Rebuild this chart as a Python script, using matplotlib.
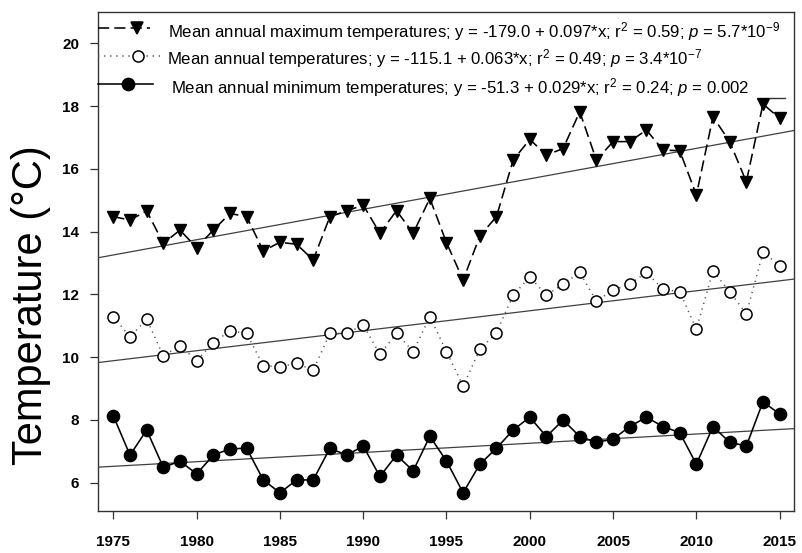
import numpy as np
import matplotlib
matplotlib.use("Agg")
import matplotlib.pyplot as plt
from matplotlib.lines import Line2D

# Annual temperature series (°C), 1975-2015
years = list(range(1975, 2016))

t_max = [14.48, 14.37, 14.66, 13.63, 14.05, 13.49, 14.05, 14.58, 14.48, 13.39,
         13.66, 13.60, 13.10, 14.48, 14.66, 14.85, 13.95, 14.67, 13.95, 15.06,
         13.65, 12.46, 13.86, 14.48, 16.28, 16.94, 16.44, 16.65, 17.82, 16.28,
         16.87, 16.87, 17.24, 16.60, 16.58, 15.17, 17.66, 16.87, 15.59, 18.07,
         17.61]

t_mean = [11.29, 10.65, 11.21, 10.04, 10.37, 9.89, 10.46, 10.84, 10.76, 9.73,
          9.70, 9.80, 9.59, 10.76, 10.76, 11.03, 10.09, 10.76, 10.18, 11.29,
          10.18, 9.08, 10.25, 10.78, 11.98, 12.55, 11.98, 12.33, 12.70, 11.79,
          12.14, 12.33, 12.70, 12.17, 12.09, 10.89, 12.75, 12.09, 11.38, 13.34,
          12.92]

t_min = [8.13, 6.88, 7.68, 6.49, 6.69, 6.28, 6.88, 7.08, 7.10, 6.09,
         5.68, 6.09, 6.09, 7.10, 6.88, 7.17, 6.20, 6.88, 6.38, 7.48,
         6.69, 5.68, 6.59, 7.10, 7.68, 8.09, 7.47, 8.00, 7.47, 7.29,
         7.39, 7.79, 8.09, 7.79, 7.60, 6.59, 7.79, 7.29, 7.17, 8.58,
         8.19]

legend_labels = [
    r"Mean annual maximum temperatures; y = -179.0 + 0.097*x; r$^2$ = 0.59; $\it{p}$ = 5.7*10$^{-9}$",
    r"Mean annual temperatures; y = -115.1 + 0.063*x; r$^2$ = 0.49; $\it{p}$ = 3.4*10$^{-7}$",
    r"Mean annual minimum temperatures; y = -51.3 + 0.029*x; r$^2$ = 0.24; $\it{p}$ = 0.002",
]

x_ticks = [1975, 1980, 1985, 1990, 1995, 2000, 2005, 2010, 2015]
y_ticks = [6, 8, 10, 12, 14, 16, 18, 20]

plt.rcParams["font.family"] = ["Liberation Sans", "DejaVu Sans"]
plt.rcParams["mathtext.fontset"] = "custom"
plt.rcParams["mathtext.rm"] = "Liberation Sans"
plt.rcParams["mathtext.it"] = "Liberation Sans:italic"
plt.rcParams["mathtext.bf"] = "Liberation Sans:bold"

W, H = 802, 553
fig = plt.figure(figsize=(W / 100, H / 100), dpi=100)
fig.patch.set_facecolor("white")

# plot region in pixels
L, R, T, B = 97.7, 794.3, 12.3, 511.0
ax = fig.add_axes([L / W, 1 - B / H, (R - L) / W, (B - T) / H])
ax.set_xlim(1974.06, 2015.88)
ax.set_ylim(5.10, 20.99)

frame_col = "#333333"
trend_col = "#404040"

# series
ax.plot(years, t_max, color="black", lw=1.15, dashes=(7, 3.2),
        marker="v", ms=9, mfc="black", mec="black", zorder=4)
ax.plot(years, t_mean, color="#555555", lw=1.1, linestyle=(0, (0.8, 3.0)),
        marker="o", ms=8, mfc="white", mec="black", mew=1.1, zorder=4)
ax.plot(years, t_min, color="black", lw=1.15,
        marker="o", ms=8.8, mfc="black", mec="black", zorder=4)

# least-squares trend lines across the whole plot width
for series in (t_max, t_mean, t_min):
    slope, intercept = np.polyfit(years, series, 1)
    ax.axline((years[0], intercept + slope * years[0]), slope=slope,
              color=trend_col, lw=0.9, zorder=3)

# axes styling
for sp in ax.spines.values():
    sp.set_color(frame_col)
    sp.set_linewidth(1.0)
ax.set_xticks(x_ticks)
ax.set_yticks(y_ticks)
ax.tick_params(axis="both", direction="out", length=5.5, width=0.9,
               color=frame_col, labelsize=11)
ax.tick_params(axis="x", pad=11.5)
ax.tick_params(axis="y", pad=7.8)
for lab in ax.get_xticklabels() + ax.get_yticklabels():
    lab.set_fontweight("bold")

fig.text(31.5 / W, 1 - 305 / H, "Temperature (°C)", rotation=90,
         ha="center", va="center", fontsize=30)

# key (drawn in figure pixels)
def fx(px):
    return px / W


def fy(py):
    return 1 - py / H


keys = [
    dict(y=27.5, x0=98, x1=150, xm=137, ls=(0, (7, 3.2)), col="black",
         marker="v", ms=9, mfc="black", text_x=168.3, base=37.3),
    dict(y=55.5, x0=98, x1=160, xm=138, ls=(0, (0.8, 3.0)), col="#555555",
         marker="o", ms=8, mfc="white", text_x=167.3, base=64.5),
    dict(y=84.0, x0=98, x1=153, xm=128, ls="-", col="black",
         marker="o", ms=8.8, mfc="black", text_x=170.7, base=93.5),
]
for k, label in zip(keys, legend_labels):
    fig.lines.append(Line2D([fx(k["x0"]), fx(k["x1"])], [fy(k["y"])] * 2,
                            transform=fig.transFigure, color=k["col"],
                            lw=1.15, linestyle=k["ls"], zorder=5))
    fig.lines.append(Line2D([fx(k["xm"])], [fy(k["y"])],
                            transform=fig.transFigure, linestyle="none",
                            marker=k["marker"], ms=k["ms"], mfc=k["mfc"],
                            mec="black", mew=1.1, zorder=6))
    fig.text(fx(k["text_x"]), fy(k["base"]), label, ha="left",
             va="baseline", fontsize=12.1)

# short stub of the key box edge
fig.lines.append(Line2D([fx(770), fx(785)], [fy(98)] * 2,
                        transform=fig.transFigure, color=frame_col, lw=1.0))

fig.savefig("out.png", dpi=100)
